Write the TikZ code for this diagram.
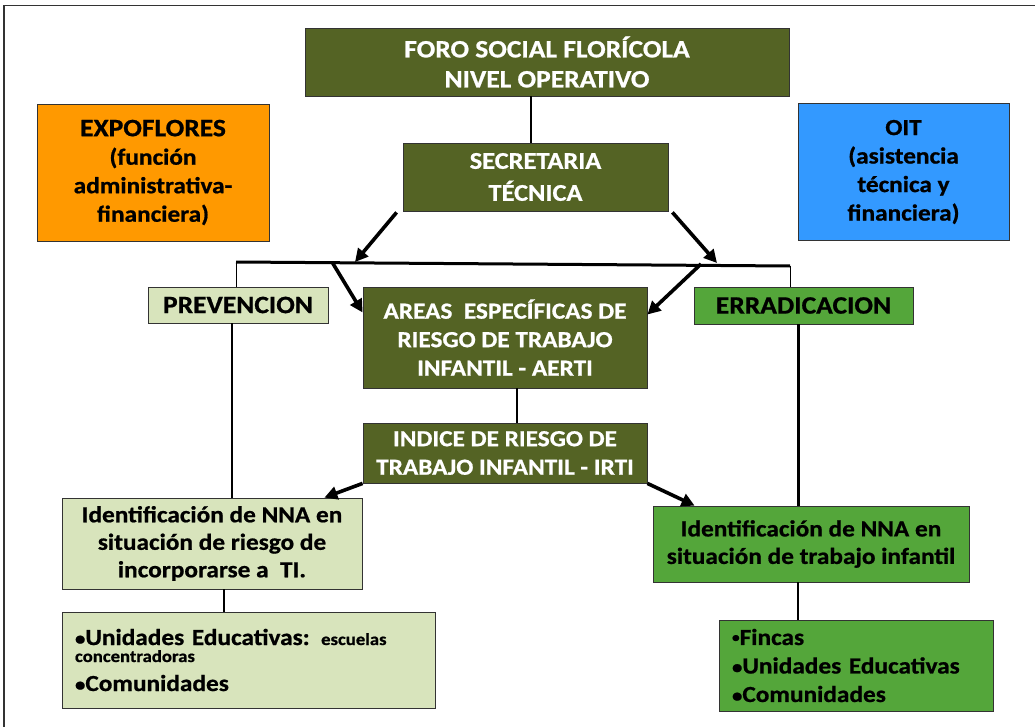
\documentclass[tikz,border=0pt]{standalone}
\usepackage{fontspec}
\setmainfont{Carlito}[FakeStretch=1.1, BoldFeatures={FakeBold=0.8}]
\usepackage{xcolor}
\usepackage{tikz}
\usetikzlibrary{arrows.meta}

\definecolor{foroolive}{RGB}{84,99,36}
\definecolor{expoorange}{RGB}{255,153,0}
\definecolor{oitblue}{RGB}{51,153,255}
\definecolor{prevgreen}{RGB}{216,228,188}
\definecolor{errgreen}{RGB}{84,166,58}

\newcommand{\blt}{{\fontsize{19}{19}\selectfont •}}

\begin{document}
\begin{tikzpicture}[x=1pt, y=-1pt,
    box/.style={draw=black!80, line width=0.8pt, inner sep=0pt, align=center,
      font=\bfseries\fontsize{23}{28.5}\selectfont},
    darkbox/.style={box, fill=foroolive, text=white},
    listbox/.style={box, align=left, inner xsep=13pt},
    link/.style={line width=2.8pt},
    thinlink/.style={line width=1pt},
    arrow/.style={line width=3.6pt, -{Triangle[length=13pt, width=13pt]}}]
    \useasboundingbox (0,0) rectangle (1035,727);

    % frame
    \draw[line width=1.3pt, black!80] (4,727) -- (4,5.5) -- (1035,5.5);

    % top
    \node[darkbox, minimum width=484pt, minimum height=68pt, font=\bfseries\fontsize{25}{30}\selectfont]
        (foro) at (547,62) {FORO SOCIAL FLORÍCOLA\\NIVEL OPERATIVO};
    \node[darkbox, minimum width=265pt, minimum height=68pt, font=\bfseries\fontsize{24}{32}\selectfont]
        (sec) at (535.5,177) {SECRETARIA\\TÉCNICA};
    \node[box, fill=expoorange, minimum width=232pt, minimum height=137pt]
        (expo) at (153,172.5) {{\fontsize{25}{29}\selectfont EXPOFLORES}\\(función\\administrativa-\\financiera)};
    \node[box, fill=oitblue, minimum width=211pt, minimum height=137pt]
        (oit) at (903.5,172) {OIT\\(asistencia\\técnica y\\financiera)};

    % middle row
    \node[box, fill=prevgreen, minimum width=180pt, minimum height=36pt, font=\bfseries\fontsize{25}{28}\selectfont]
        (prev) at (238,305) {PREVENCION};
    \node[darkbox, minimum width=284pt, minimum height=101pt]
        (aerti) at (505,337.5) {AREAS\ \ ESPECÍFICAS DE\\RIESGO DE TRABAJO\\INFANTIL - AERTI};
    \node[box, fill=errgreen, minimum width=219pt, minimum height=37pt, font=\bfseries\fontsize{25}{28}\selectfont]
        (err) at (803.5,305.5) {ERRADICACION};
    \node[darkbox, minimum width=284pt, minimum height=60pt]
        (irti) at (505,453) {INDICE DE RIESGO DE\\TRABAJO INFANTIL - IRTI};

    % lower rows
    \node[box, fill=prevgreen, minimum width=300pt, minimum height=91pt, font=\bfseries\fontsize{23}{27.5}\selectfont]
        (identL) at (212,543.5) {Identificación de NNA en\\situación de riesgo de\\incorporarse a\ \ TI.};
    \node[box, fill=errgreen, minimum width=316pt, minimum height=76pt, font=\bfseries\fontsize{23}{27.5}\selectfont]
        (identR) at (811,544) {Identificación de NNA en\\situación de trabajo infantil};
    \node[listbox, fill=prevgreen, text width=347pt, minimum height=96pt, font=\bfseries\fontsize{23}{29}\selectfont]
        (listL) at (248.5,660) {\blt Unidades Educativas: {\fontsize{17}{17}\selectfont escuelas}\\[-12pt]
        {\fontsize{17}{17}\selectfont concentradoras}\\
        \blt Comunidades};
    \node[listbox, fill=errgreen, text width=248pt, minimum height=91pt, font=\bfseries\fontsize{23}{28.5}\selectfont]
        (listR) at (856,665.5) {\raisebox{3pt}{\fontsize{14}{14}\selectfont •}Fincas\\
        \blt Unidades Educativas\\
        \blt Comunidades};

    % bar
    \coordinate (barL) at (236,262);
    \coordinate (barR) at (790,266);
    \coordinate (secL) at (355,262);
    \coordinate (secR) at (717,263);
    \coordinate (aertiL) at (332,262);
    \coordinate (aertiR) at (701,264);
    \draw[line width=3pt] (barL) -- (barR);
    \draw[thinlink] (barL) -- (barL |- prev.north);
    \draw[thinlink] (barR) -- (barR |- err.north);

    % connectors
    \draw[link] ([xshift=-4.5pt]sec.north) -- ([xshift=-4.5pt]sec.north |- foro.south);
    \draw[arrow] ([xshift=-6pt,yshift=-1pt]sec.south west) -- (secL);
    \draw[arrow] ([xshift=4pt,yshift=-1pt]sec.south east) -- (secR);
    \draw[arrow] (aertiL) -- ([yshift=25pt]aerti.west);
    \draw[arrow] (aertiR) -- ([yshift=23pt]aerti.east);
    \draw[link] ([xshift=12pt]aerti.south) -- ([xshift=12pt]irti.north);
    \draw[arrow] (irti.south west) -- ([xshift=-38pt]identL.north east);
    \draw[arrow] (irti.south east) -- ([xshift=42pt]identR.north west);
    \draw[link] ([xshift=-6pt]prev.south) -- ([xshift=-6pt]prev.south |- identL.north);
    \draw[link] ([xshift=-5pt]err.south) -- ([xshift=-5pt]err.south |- identR.north);
    \draw[link] ([xshift=12pt]identL.south) -- ([xshift=12pt]identL.south |- listL.north);
    \draw[link] ([xshift=-13pt]identR.south) -- ([xshift=-13pt]identR.south |- listR.north);

\end{tikzpicture}
\end{document}
